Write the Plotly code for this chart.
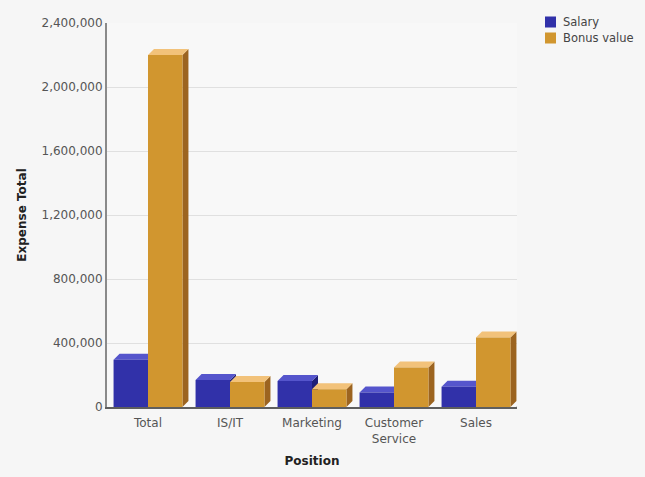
import plotly.graph_objects as go

# Expense totals by position
positions = ["Total", "IS/IT", "Marketing", "Customer<br>Service", "Sales"]
salary = [295000, 168000, 163000, 90000, 126000]
bonus_value = [2200000, 157000, 111000, 247000, 435000]
y_ticks = [0, 400000, 800000, 1200000, 1600000, 2000000, 2400000]

# Figure geometry
W, H = 645, 477
M = dict(l=107, r=128, t=23, b=70)
plot_w = W - M["l"] - M["r"]
plot_h = H - M["t"] - M["b"]
x_range = [-0.5, len(positions) - 0.5]
y_range = [0, 2400000]

bar_w = 0.42          # width of one bar in category units
depth_px = 6          # pseudo-3D depth offset in pixels
dx = depth_px * (x_range[1] - x_range[0]) / plot_w
dy = depth_px * (y_range[1] - y_range[0]) / plot_h

series = [
    ("Salary", salary, -bar_w / 2, "#3131a9", "#5555cc", "#1f1f78"),
    ("Bonus value", bonus_value, bar_w / 2, "#d1962f", "#f2c27a", "#9c6420"),
]

fig = go.Figure()
shapes = []
annotations = []
xs = list(range(len(positions)))

for name, vals, off, front, top, side in series:
    fig.add_trace(go.Bar(
        x=[i + off for i in xs], y=vals, width=bar_w, name=name,
        marker=dict(color=front, line=dict(width=0)),
        showlegend=False,
    ))

# depth faces (right side and top) for each bar, drawn series by series
for name, vals, off, front, top, side in series:
    for i, v in zip(xs, vals):
        x0 = i + off - bar_w / 2
        x1 = i + off + bar_w / 2
        shapes.append(dict(
            type="path", layer="between", line=dict(width=0), fillcolor=side,
            path=f"M{x1},0 L{x1},{v} L{x1 + dx},{v + dy} L{x1 + dx},{dy} Z",
        ))
        shapes.append(dict(
            type="path", layer="between", line=dict(width=0), fillcolor=top,
            path=f"M{x0},{v} L{x1},{v} L{x1 + dx},{v + dy} L{x0 + dx},{v + dy} Z",
        ))

# slanted edge of the floor at the right end of the category axis
shapes.append(dict(
    type="line", xref="x", yref="y", layer="above",
    x0=x_range[1], y0=0, x1=x_range[1] + dx, y1=dy,
    line=dict(color="#666666", width=1.5),
))


def px_x(px):
    return (px - M["l"]) / plot_w


def px_y(py):
    return (H - M["b"] - py) / plot_h


# legend box: colour swatch plus label for each series
for row, (name, vals, off, front, top, side) in enumerate(series):
    cy = 22 + 16 * row
    shapes.append(dict(
        type="rect", xref="paper", yref="paper", layer="above",
        x0=px_x(545), x1=px_x(556), y0=px_y(cy + 5.5), y1=px_y(cy - 5.5),
        fillcolor=front, line=dict(width=0),
    ))
    annotations.append(dict(
        xref="paper", yref="paper", x=px_x(561), y=px_y(cy),
        xanchor="left", yanchor="middle", showarrow=False, text=name,
        font=dict(size=11.5, color="#444444"),
    ))

fig.update_layout(
    width=W, height=H, margin=M,
    paper_bgcolor="#f6f6f6", plot_bgcolor="#f8f8f8",
    barmode="overlay", shapes=shapes, annotations=annotations,
    font=dict(family="DejaVu Sans", size=12, color="#555555"),
    showlegend=False,
    xaxis=dict(
        range=x_range, tickmode="array", tickvals=xs, ticktext=positions,
        showgrid=False, zeroline=False, showline=True,
        linecolor="#5e5e5e", linewidth=2, ticks="", ticklabelstandoff=4,
        title=dict(text="<b>Position</b>", standoff=12,
                   font=dict(size=12, color="#222222")),
        tickfont=dict(size=12, color="#555555"),
    ),
    yaxis=dict(
        range=y_range, tickmode="array", tickvals=y_ticks,
        tickformat=",d", showgrid=True, gridcolor="#e0e0e0", gridwidth=1,
        zeroline=False, showline=True, linecolor="#8a8a8a", linewidth=2,
        ticks="",
        title=dict(text="<b>Expense Total</b>", standoff=12,
                   font=dict(size=12, color="#222222")),
        tickfont=dict(size=12, color="#555555"),
    ),
)

fig.write_html("out.html")
